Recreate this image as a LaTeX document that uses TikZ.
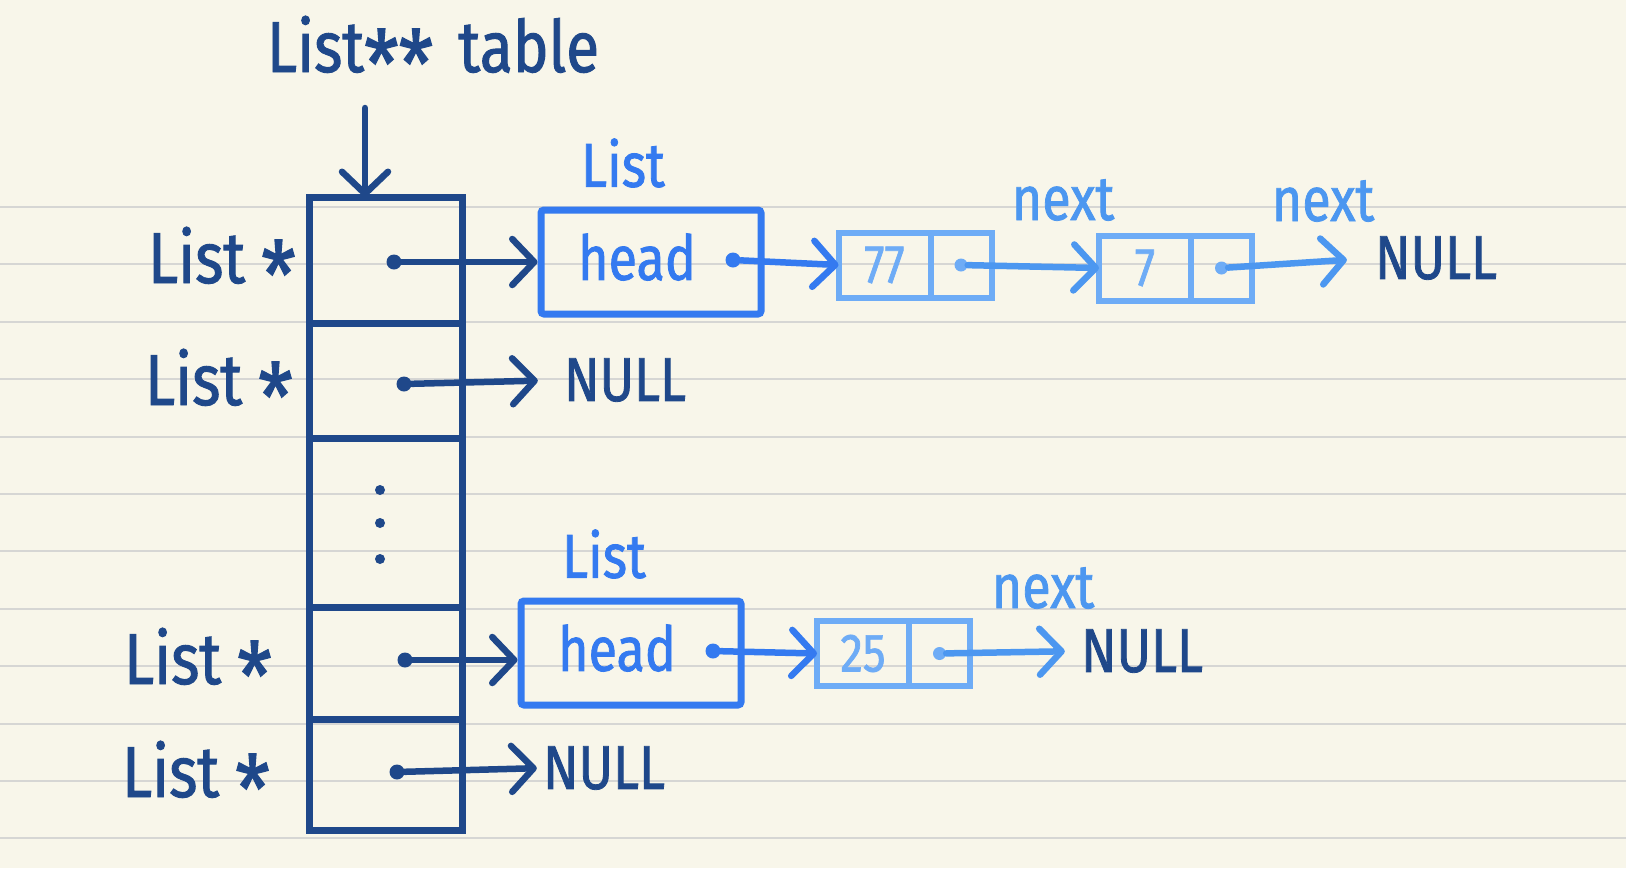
\documentclass[tikz,border=0pt]{standalone}
\usepackage{fontspec}
\setmainfont[FakeStretch=0.84,FakeBold=1.3]{Fira Sans}
\usetikzlibrary{arrows.meta,positioning}
\definecolor{paper}{RGB}{248,246,234}
\definecolor{ruling}{RGB}{214,214,212}
\definecolor{navy}{RGB}{31,72,138}
\definecolor{headblue}{RGB}{52,122,240}
\definecolor{cellblue}{RGB}{110,172,246}
\definecolor{nextblue}{RGB}{76,151,240}
\newcommand\dropstar{\raisebox{-0.36em}{\scalebox{1.3}{*}}}
\tikzset{big/.style={inner sep=0pt,text=navy,font=\fontsize{72}{72}\selectfont},
 nul/.style={big,font=\fontsize{62}{62}\selectfont},
 tag/.style={inner sep=0pt,font=\fontsize{62}{62}\selectfont},
 cell/.style={draw=navy,line width=7pt,minimum width=153pt,inner sep=0pt,outer sep=0pt},
 hbox/.style={draw=headblue,line width=7pt,minimum width=220pt,minimum height=104pt,rounded corners=3pt}}
\tikzset{val/.style={draw=cellblue,line width=6pt,minimum width=92pt,minimum height=65pt,
 inner sep=0pt,outer sep=0pt,text=cellblue,font=\fontsize{54}{54}\selectfont},
 ptr/.style={val,minimum width=61pt},
 pdot/.style={circle,fill,inner sep=0pt,minimum size=15pt},
 vdot/.style={circle,fill=navy,inner sep=0pt,minimum size=10pt},
 arr/.style={-{Straight Barb[length=22pt,width=46pt,round]},line width=6.5pt,line cap=round}}

\begin{document}
\begin{tikzpicture}[x=1pt,y=-1pt]
\path[use as bounding box,fill=paper] (0,0) rectangle (1626,868);
\foreach \k in {0,...,11}
 \draw[ruling,line width=2pt] (0,{207+57.4*\k}) -- (1626,{207+57.4*\k});
% the table
\node[big,anchor=base] (title) at (433,72) {List\dropstar\dropstar\hspace{0.35em}table};
\node[cell,minimum height=126pt] (c1) at (385.5,260) {};
\node[cell,minimum height=115pt] (c2) at (385.5,380.5) {};
\node[cell,minimum height=169pt] (c3) at (385.5,522.5) {};
\node[cell,minimum height=112pt] (c4) at (385.5,663) {};
\node[cell,minimum height=111pt] (c5) at (385.5,774.5) {};
\coordinate (down) at (365,108);
\draw[arr,navy] (down) -- (down |- c1.north);
\node[big,anchor=base east] (l1) at (296,283) {List \dropstar};
\node[big,anchor=base east] (l2) at (293,405) {List \dropstar};
\node[big,anchor=base east] (l4) at (272,684) {List \dropstar};
\node[big,anchor=base east] (l5) at (270,797) {List \dropstar};
\node[vdot] (e1) at (380,490) {};
\node[vdot] (e2) at (380,523) {};
\node[vdot] (e3) at (380,559) {};
\node[pdot,navy] (p1) at (394,262) {};
\node[pdot,navy] (p2) at (404,384) {};
\node[pdot,navy] (p4) at (405,660) {};
\node[pdot,navy] (p5) at (397,772) {};
% first list
\node[tag,text=headblue] (t1) at (623,163) {List};
\node[hbox] (h1) at (651,262) {};
\node[tag,text=headblue] (h1t) at (637,257) {head};
\node[pdot,headblue] (h1p) at (733,260) {};
\node[val] (v77) at (884.5,265) {77};
\node[ptr,right=0pt of v77] (q77) {};
\node[pdot,cellblue,minimum size=13pt] (d77) at (q77) {};
\node[tag,text=nextblue] (x77) at (1063,200) {next};
\node[val] (v7) at (1145,268) {7};
\node[ptr,right=0pt of v7] (q7) {};
\node[pdot,cellblue,minimum size=13pt] (d7) at (q7) {};
\node[tag,text=nextblue] (x7) at (1323,201) {next};
\node[nul] (n1) at (1436,258) {NULL};
\node[nul] (n2) at (625,380) {NULL};
% second list
\node[tag,text=headblue] (t2) at (604,554) {List};
\node[hbox] (h2) at (631,653) {};
\node[tag,text=headblue] (h2t) at (617,648) {head};
\node[pdot,headblue] (h2p) at (713,651) {};
\node[val] (v25) at (863,653.5) {25};
\node[ptr,right=0pt of v25] (q25) {};
\node[pdot,cellblue,minimum size=13pt] (d25) at (q25) {};
\node[tag,text=nextblue] (x25) at (1043,588) {next};
\node[nul] (n4) at (1142,651) {NULL};
\node[nul] (n5) at (604,768) {NULL};
% pointers
\draw[arr,navy] (p1) -- (p1 -| h1.west);
\draw[arr,navy,shorten >=26pt] (p2) -- (n2.west);
\draw[arr,navy] (p4) -- (p4 -| h2.west);
\draw[arr,navy,shorten >=6pt] (p5) -- (n5.west);
\draw[arr,headblue] (h1p) -- (v77.west);
\draw[arr,nextblue] (d77) -- (v7.west);
\draw[arr,nextblue,shorten >=28pt] (d7) -- (n1.west);
\draw[arr,headblue] (h2p) -- (v25.west);
\draw[arr,nextblue,shorten >=16pt] (d25) -- (n4.west);
\end{tikzpicture}
\end{document}
